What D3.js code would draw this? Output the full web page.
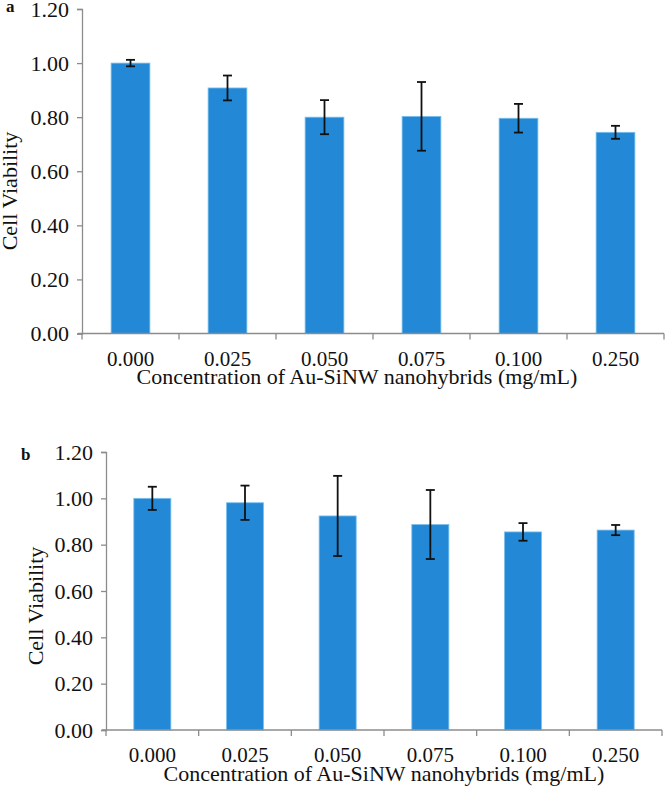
<!DOCTYPE html>
<html>
<head>
<meta charset="utf-8">
<script src="https://cdn.jsdelivr.net/npm/d3@7"></script>
<style>
  html, body { margin: 0; padding: 0; background: #fff; }
  svg { display: block; font-family: "Liberation Serif", "Times New Roman", serif; }
</style>
</head>
<body>
<svg id="chart" width="666" height="790"></svg>
<script>
const categories = ["0.000", "0.025", "0.050", "0.075", "0.100", "0.250"];
const yTicks = [0, 0.2, 0.4, 0.6, 0.8, 1.0, 1.2];
const valuesA = [1.000, 0.908, 0.800, 0.803, 0.796, 0.744];
const errorsA = [0.012, 0.046, 0.063, 0.127, 0.053, 0.024];
const valuesB = [1.000, 0.981, 0.924, 0.887, 0.855, 0.863];
const errorsB = [0.050, 0.074, 0.173, 0.149, 0.038, 0.022];
const xTitle = "Concentration of Au-SiNW nanohybrids (mg/mL)";
const yTitle = "Cell Viability";

const svg = d3.select("#chart");

function panel(cfg) {
  const g = svg.append("g");
  const x = d3.scaleBand().domain(categories).range([cfg.left, cfg.right]).paddingInner(0.6).paddingOuter(0.3);
  const xb = d3.scaleBand().domain(categories).range([cfg.left, cfg.right]).padding(0);
  const y = d3.scaleLinear().domain([0, 1.2]).range([cfg.bottom, cfg.top]);

  // bars
  g.selectAll("rect.bar").data(cfg.values).enter().append("rect")
    .attr("x", (d, i) => x(categories[i]))
    .attr("y", d => y(d))
    .attr("width", x.bandwidth())
    .attr("height", d => y(0) - y(d))
    .attr("fill", "#2389D6")
    .attr("stroke", "#7DC0EE")
    .attr("stroke-width", 0.8);

  // y axis
  const yAxis = d3.axisLeft(y).tickValues(yTicks).tickFormat(d3.format(".2f")).tickSizeOuter(0).tickSize(5).tickPadding(8);
  const ya = g.append("g").attr("transform", `translate(${cfg.left},0)`).call(yAxis);
  ya.select(".domain").attr("stroke", "#8c8c8c").attr("stroke-width", 1.3);
  ya.selectAll(".tick line").attr("stroke", "#8c8c8c").attr("stroke-width", 1.3);
  ya.selectAll(".tick text").attr("font-size", cfg.yFont).attr("fill", "#111")
    .attr("font-family", "Liberation Serif, serif");

  // x axis (ticks at band boundaries)
  const xa = g.append("g").attr("transform", `translate(0,${cfg.bottom})`);
  xa.append("line").attr("x1", cfg.left - 4).attr("x2", cfg.right).attr("y1", 0).attr("y2", 0)
    .attr("stroke", "#8c8c8c").attr("stroke-width", 1.3);
  const bounds = categories.map(c => xb(c)).concat([xb(categories[categories.length - 1]) + xb.bandwidth()]);
  xa.selectAll("line.tk").data(bounds).enter().append("line")
    .attr("x1", d => d).attr("x2", d => d).attr("y1", 0).attr("y2", 6)
    .attr("stroke", "#8c8c8c").attr("stroke-width", 1.3);
  xa.selectAll("text.lbl").data(categories).enter().append("text")
    .attr("x", d => xb(d) + xb.bandwidth() / 2)
    .attr("y", cfg.xLabelDy)
    .attr("text-anchor", "middle")
    .attr("font-size", 21).attr("fill", "#111")
    .text(d => d);

  // error bars
  const eb = g.append("g").attr("stroke", "#111").attr("stroke-width", 1.8);
  cfg.values.forEach((v, i) => {
    const cx = x(categories[i]) + x.bandwidth() / 2;
    const e = cfg.errors[i];
    eb.append("line").attr("x1", cx).attr("x2", cx).attr("y1", y(v + e)).attr("y2", y(v - e));
    eb.append("line").attr("x1", cx - 4.5).attr("x2", cx + 4.5).attr("y1", y(v + e)).attr("y2", y(v + e));
    eb.append("line").attr("x1", cx - 4.5).attr("x2", cx + 4.5).attr("y1", y(v - e)).attr("y2", y(v - e));
  });

  // titles
  g.append("text").attr("x", cfg.xTitleX).attr("y", cfg.xTitleY)
    .attr("text-anchor", "middle").attr("font-size", 22).attr("fill", "#111").text(xTitle);
  g.append("text")
    .attr("transform", `translate(${cfg.yTitleX},${cfg.yTitleY}) rotate(-90)`)
    .attr("text-anchor", "middle").attr("font-size", 22).attr("fill", "#111").text(yTitle);
  g.append("text").attr("x", cfg.tagX).attr("y", cfg.tagY)
    .attr("font-size", cfg.tagSize).attr("font-weight", "bold").attr("fill", "#111").text(cfg.tag);
}

panel({
  values: valuesA, errors: errorsA,
  left: 82, right: 664, top: 9, bottom: 333.5,
  yFont: 22, xLabelDy: 32, xTitleX: 357, xTitleY: 384,
  yTitleX: 17, yTitleY: 191, tag: "a", tagX: 6, tagY: 12, tagSize: 17
});
panel({
  values: valuesB, errors: errorsB,
  left: 106, right: 662, top: 452, bottom: 730,
  yFont: 22, xLabelDy: 32, xTitleX: 384, xTitleY: 781,
  yTitleX: 43, yTitleY: 606, tag: "b", tagX: 21, tagY: 460, tagSize: 17
});
</script>
</body>
</html>
